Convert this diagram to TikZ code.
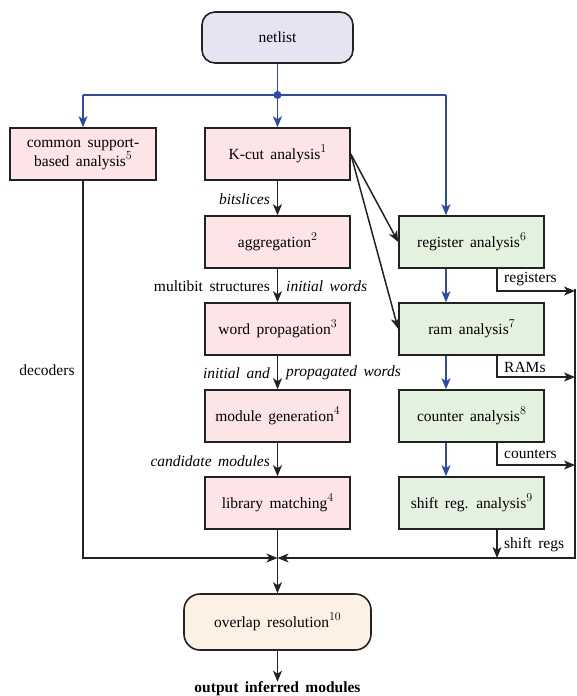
\documentclass[tikz,border=0pt]{standalone}
\usepackage{fontspec}
\setmainfont{Liberation Serif}
\usetikzlibrary{arrows.meta,calc}
\definecolor{pinkf}{HTML}{FDE4E6}
\definecolor{greenf}{HTML}{E4F2E0}
\definecolor{lavf}{HTML}{E4E4F3}
\definecolor{peachf}{HTML}{FDF0E4}
\definecolor{blueC}{HTML}{2B4BA8}
\definecolor{edgeC}{HTML}{222222}
\newcommand\sups[1]{\raisebox{0.45em}{\fontsize{12}{12}\selectfont$#1$}}
\newcommand\mainfs{\fontsize{15.5}{18}\selectfont\spaceskip=0.42em plus 0.1em\relax}
\begin{document}
\begin{tikzpicture}[x=1pt,y=-1pt,font=\mainfs,
  box/.style={draw=edgeC,line width=1.6pt,minimum width=145pt,minimum height=52pt,inner sep=2pt,align=center},
  pinkbox/.style={box,fill=pinkf},
  greenbox/.style={box,fill=greenf},
  arr/.style={-{Stealth[length=11pt,width=9pt,inset=3pt]},line width=1.5pt,draw=edgeC},
  barr/.style={arr,draw=blueC},
  lbl/.style={inner sep=0pt}]
\useasboundingbox (0,0) rectangle (576,696);

\node[box,fill=lavf,rounded corners=13pt,minimum width=151pt,minimum height=51pt] (net) at (277.5,37.5) {netlist};

\node[pinkbox,minimum width=146pt] (cs) at (83,154) {common support-\\based analysis\sups{5}};
\node[pinkbox] (kcut) at (277.5,154) {K-cut analysis\sups{1}};
\node[pinkbox] (agg) at (277.5,242) {aggregation\sups{2}};
\node[pinkbox] (wp) at (277.5,329) {word propagation\sups{3}};
\node[pinkbox] (mg) at (277.5,416) {module generation\sups{4}};
\node[pinkbox] (lm) at (277.5,503) {library matching\sups{4}};

\node[greenbox] (reg) at (471.5,242) {register analysis\sups{6}};
\node[greenbox] (ram) at (471.5,329) {ram analysis\sups{7}};
\node[greenbox] (cnt) at (471.5,416) {counter analysis\sups{8}};
\node[greenbox] (shr) at (471.5,503) {shift reg. analysis\sups{9}};

\node[box,fill=peachf,rounded corners=16pt,minimum width=187pt,minimum height=56pt] (ov) at (277.5,622) {overlap resolution\sups{10}};
\node[lbl,font=\mainfs\bfseries] (out) at (277.5,689) {output inferred modules};

% coordinates
\coordinate (j) at (277.5,95);
\coordinate (jl) at (83,95);
\coordinate (jr) at (446,95);
\coordinate (bx) at (446,0);
\coordinate (ox) at (497,0);
\coordinate (rx) at (575,0);
\coordinate (by) at (0,558);
\coordinate (m) at (277.5,558);
\coordinate (rtop) at (575,289);

% blue distribution
\draw[line width=1.5pt,draw=blueC] (net.south) -- (j);
\draw[line width=1.5pt,draw=blueC] (jl) -- (jr);
\fill[blueC] (j) circle (4pt);
\draw[barr] (j) -- (kcut.north);
\draw[barr] (jl) -- (cs.north);
\draw[barr] (jr) -- (reg.north -| bx);
\draw[barr] (reg.south -| bx) -- (ram.north -| bx);
\draw[barr] (ram.south -| bx) -- (cnt.north -| bx);
\draw[barr] (cnt.south -| bx) -- (shr.north -| bx);

% pink chain
\draw[arr] (kcut) -- (agg);
\draw[arr] (agg) -- (wp);
\draw[arr] (wp) -- (mg);
\draw[arr] (mg) -- (lm);
\draw[arr] (lm) -- (ov);
\draw[arr] (ov) -- (out);

\draw[arr] (kcut.east) -- (reg.west);
\draw[arr] (kcut.east) -- (ram.west);

% labels
\node[lbl,anchor=east,font=\mainfs\itshape] (l1) at (270,199) {bitslices};
\node[lbl,anchor=east] (l2) at (270,286) {multibit structures};
\node[lbl,anchor=west,font=\mainfs\itshape] (l3) at (286,286) {initial words};
\node[lbl,anchor=east,font=\mainfs\itshape] (l4) at (270,373) {initial and};
\node[lbl,anchor=west,font=\mainfs\itshape] (l5) at (286,373) {propagated words};
\node[lbl,anchor=east,font=\mainfs\itshape] (l6) at (270,461) {candidate modules};
\node[lbl] (l7) at (47,370) {decoders};

% outputs from green
\draw[arr] (reg.south -| ox) |- (rx |- 0,291);
\draw[arr] (ram.south -| ox) |- (rx |- 0,377);
\draw[arr] (cnt.south -| ox) |- (rx |- 0,465);
\draw[arr] (shr.south -| ox) -- (ox |- by);
\node[lbl,anchor=west] (o1) at (504,279) {registers};
\node[lbl,anchor=west] (o2) at (504,367) {RAMs};
\node[lbl,anchor=west] (o3) at (504,454) {counters};
\node[lbl,anchor=west] (o4) at (504,545) {shift regs};

% collection
\draw[arr] (rtop) -- (rx |- by) -- (m);
\draw[arr] (cs.south) -- (cs.south |- by) -- (m);
\end{tikzpicture}
\end{document}
